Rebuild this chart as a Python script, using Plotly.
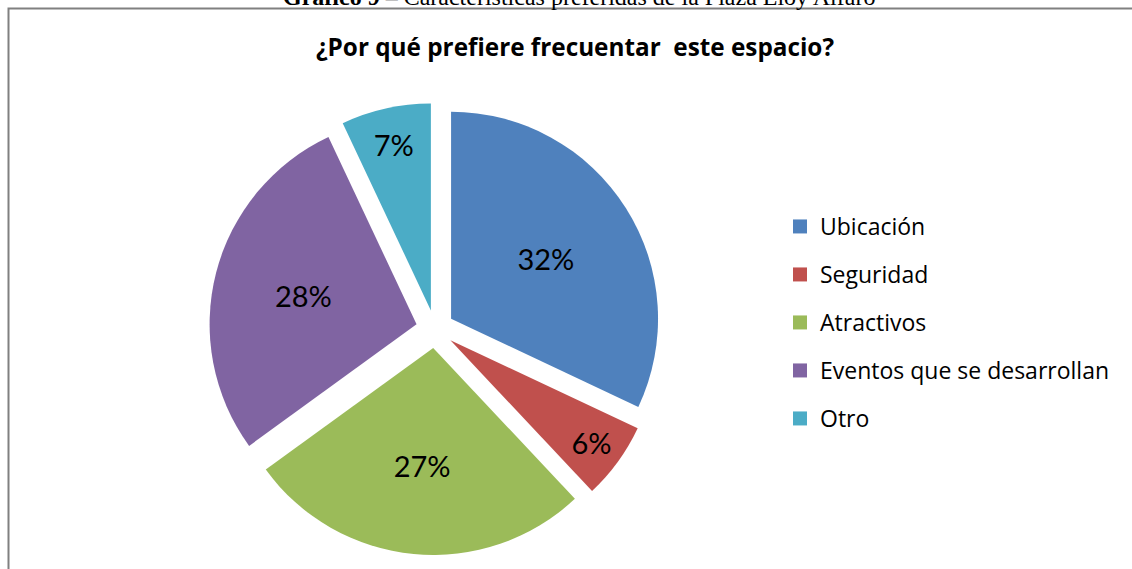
import plotly.graph_objects as go

categories = ["Ubicación", "Seguridad", "Atractivos", "Eventos que se desarrollan", "Otro"]
values = [32, 6, 27, 28, 7]
colors = ["#4F81BD", "#C0504D", "#9BBB59", "#8064A2", "#4BACC6"]

W, H = 1132, 569
FONT = "Lato, Calibri, Carlito, sans-serif"
FONT2 = "Open Sans, Calibri, sans-serif"

fig = go.Figure()
fig.add_trace(go.Pie(
    labels=categories, values=values, sort=False, direction="clockwise",
    marker=dict(colors=colors, line=dict(width=0)),
    pull=[0.092] * len(values),
    textinfo="percent", textposition="inside", insidetextorientation="horizontal",
    texttemplate="%{percent:.0%}",
    textfont=dict(family=FONT, size=29, color="black"),
    domain=dict(x=[209 / W, 661 / W], y=[1 - 555 / H, 1 - 103 / H]),
    showlegend=False, hoverinfo="skip",
))
for i, (name, col) in enumerate(zip(categories, colors)):
    fig.add_trace(go.Scatter(
        x=[None], y=[None], mode="markers", name=name, legendgroup=f"g{i}",
        marker=dict(symbol="square", size=14, color=col),
        hoverinfo="skip",
    ))

fig.update_layout(
    width=W, height=H, margin=dict(l=0, r=0, t=0, b=0),
    paper_bgcolor="white", plot_bgcolor="white",
    xaxis=dict(visible=False), yaxis=dict(visible=False),
    title=dict(text="<b>¿Por qué prefiere frecuentar  este espacio?</b>",
               x=575 / W, xanchor="center", y=1 - 47 / H, yanchor="middle",
               font=dict(family=FONT2, size=24.3, color="black")),
    legend=dict(x=780 / W, xanchor="left", y=1 - 205 / H, yanchor="top",
                font=dict(family=FONT2, size=23, color="black"),
                tracegroupgap=15.1, bgcolor="rgba(0,0,0,0)"),
    shapes=[dict(type="rect", xref="paper", yref="paper",
                 x0=8.5 / W, x1=1.05, y0=-0.05, y1=1 - 8.5 / H,
                 line=dict(color="#808080", width=2))],
    annotations=[dict(text="<b>Gráfico 9</b> – Características preferidas de la Plaza Eloy Alfaro",
                      xref="paper", yref="paper", x=579 / W, y=1 + 2.5 / H,
                      xanchor="center", yanchor="middle", showarrow=False,
                      font=dict(family="Liberation Serif, Times New Roman, serif", size=24, color="black"))],
)

fig.write_html("out.html", config={"displayModeBar": False},
               post_script="document.body.style.margin='0';document.body.style.overflow='hidden';")
